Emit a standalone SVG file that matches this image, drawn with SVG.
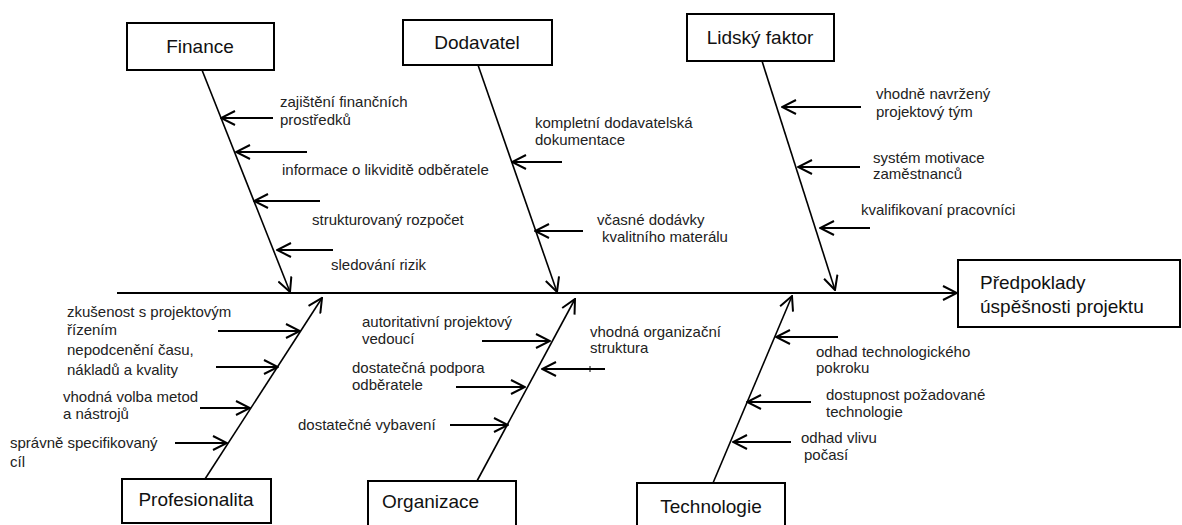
<svg xmlns="http://www.w3.org/2000/svg" width="1182" height="525" viewBox="0 0 1182 525">
<style>
.box{fill:#fff;stroke:#000;stroke-width:2}
.bt{font-family:"Liberation Sans",Arial,sans-serif;font-size:19px;fill:#111}
.lb{font-family:"Liberation Sans",Arial,sans-serif;font-size:15px;fill:#222}
.ln{stroke:#000;stroke-width:2;fill:none}
.bn{stroke:#000;stroke-width:1.6;fill:none}
</style>
<defs>
<marker id="ah" viewBox="0 0 16 16" refX="15" refY="8" markerWidth="16" markerHeight="16" markerUnits="userSpaceOnUse" orient="auto">
<path d="M1,1 L15,8 L1,15" fill="none" stroke="#000" stroke-width="2"/>
</marker>
</defs>
<rect width="1182" height="525" fill="#fff"/>
<g id="connectors">
<line class="ln" x1="117" y1="293" x2="957" y2="293" marker-end="url(#ah)"/>
<line class="bn" x1="202" y1="70" x2="290" y2="292" marker-end="url(#ah)"/>
<line class="bn" x1="478" y1="65" x2="557" y2="292" marker-end="url(#ah)"/>
<line class="bn" x1="762" y1="61" x2="835" y2="290" marker-end="url(#ah)"/>
<line class="bn" x1="205" y1="479" x2="322" y2="298" marker-end="url(#ah)"/>
<line class="bn" x1="477" y1="481" x2="575" y2="299" marker-end="url(#ah)"/>
<line class="bn" x1="713" y1="483" x2="792" y2="296" marker-end="url(#ah)"/>
<line class="ln" x1="273" y1="118" x2="221" y2="118" marker-end="url(#ah)"/>
<line class="ln" x1="307" y1="152" x2="236" y2="152" marker-end="url(#ah)"/>
<line class="ln" x1="320" y1="201" x2="254" y2="201" marker-end="url(#ah)"/>
<line class="ln" x1="333" y1="250" x2="277" y2="250" marker-end="url(#ah)"/>
<line class="ln" x1="562" y1="162" x2="512" y2="162" marker-end="url(#ah)"/>
<line class="ln" x1="583" y1="231" x2="535" y2="231" marker-end="url(#ah)"/>
<line class="ln" x1="861" y1="107" x2="782" y2="107" marker-end="url(#ah)"/>
<line class="ln" x1="860" y1="167" x2="798" y2="167" marker-end="url(#ah)"/>
<line class="ln" x1="870" y1="228" x2="820" y2="228" marker-end="url(#ah)"/>
<line class="ln" x1="218" y1="331" x2="300" y2="331" marker-end="url(#ah)"/>
<line class="ln" x1="216" y1="367" x2="278" y2="367" marker-end="url(#ah)"/>
<line class="ln" x1="200" y1="408" x2="250" y2="408" marker-end="url(#ah)"/>
<line class="ln" x1="175" y1="443" x2="227" y2="443" marker-end="url(#ah)"/>
<line class="ln" x1="482" y1="341" x2="550" y2="341" marker-end="url(#ah)"/>
<line class="ln" x1="456" y1="387" x2="525" y2="387" marker-end="url(#ah)"/>
<line class="ln" x1="450" y1="425" x2="508" y2="425" marker-end="url(#ah)"/>
<line class="ln" x1="605" y1="369" x2="542" y2="369" marker-end="url(#ah)"/>
<line stroke="#000" stroke-width="1" x1="590" y1="366" x2="590" y2="372"/>
<line class="ln" x1="838" y1="337" x2="776" y2="337" marker-end="url(#ah)"/>
<line class="ln" x1="811" y1="402" x2="747" y2="402" marker-end="url(#ah)"/>
<line class="ln" x1="791" y1="442" x2="733" y2="442" marker-end="url(#ah)"/>
</g>
<g id="finance"><rect class="box" x="127" y="23" width="147" height="47"/><text class="bt" x="200" y="53" text-anchor="middle">Finance</text></g>
<g id="dodavatel"><rect class="box" x="403" y="20" width="149" height="45"/><text class="bt" x="477" y="49" text-anchor="middle">Dodavatel</text></g>
<g id="lidsky-faktor"><rect class="box" x="687" y="14" width="147" height="47"/><text class="bt" x="760" y="44" text-anchor="middle">Lidský faktor</text></g>
<g id="predpoklady"><rect class="box" x="958" y="260" width="222" height="67"/><text class="bt" x="980" y="289">Předpoklady</text><text class="bt" x="980" y="313">úspěšnosti projektu</text></g>
<g id="profesionalita"><rect class="box" x="122" y="479" width="149" height="44"/><text class="bt" x="196" y="506" text-anchor="middle">Profesionalita</text></g>
<g id="organizace"><rect class="box" x="368" y="481" width="148" height="54"/><text class="bt" x="382" y="508">Organizace</text></g>
<g id="technologie"><rect class="box" x="637" y="483" width="148" height="52"/><text class="bt" x="711" y="513" text-anchor="middle">Technologie</text></g>
<g id="labels">
<text class="lb" x="280" y="107">zajištění finančních</text>
<text class="lb" x="280" y="125">prostředků</text>
<text class="lb" x="282" y="175">informace o likviditě odběratele</text>
<text class="lb" x="312" y="225">strukturovaný rozpočet</text>
<text class="lb" x="331" y="270">sledování rizik</text>
<text class="lb" x="535" y="128">kompletní dodavatelská</text>
<text class="lb" x="535" y="145">dokumentace</text>
<text class="lb" x="597" y="225">včasné dodávky</text>
<text class="lb" x="602" y="242">kvalitního materálu</text>
<text class="lb" x="876" y="99">vhodně navržený</text>
<text class="lb" x="876" y="117">projektový tým</text>
<text class="lb" x="873" y="163">systém motivace</text>
<text class="lb" x="873" y="179">zaměstnanců</text>
<text class="lb" x="861" y="215">kvalifikovaní pracovníci</text>
<text class="lb" x="67" y="317">zkušenost s projektovým</text>
<text class="lb" x="67" y="335">řízením</text>
<text class="lb" x="67" y="355">nepodcenění času,</text>
<text class="lb" x="67" y="375">nákladů a kvality</text>
<text class="lb" x="63" y="402">vhodná volba metod</text>
<text class="lb" x="63" y="419">a nástrojů</text>
<text class="lb" x="10" y="448">správně specifikovaný</text>
<text class="lb" x="10" y="467">cíl</text>
<text class="lb" x="362" y="327">autoritativní projektový</text>
<text class="lb" x="362" y="344">vedoucí</text>
<text class="lb" x="352" y="373">dostatečná podpora</text>
<text class="lb" x="352" y="390">odběratele</text>
<text class="lb" x="298" y="430">dostatečné vybavení</text>
<text class="lb" x="590" y="337">vhodná organizační</text>
<text class="lb" x="590" y="353">struktura</text>
<text class="lb" x="816" y="357">odhad technologického</text>
<text class="lb" x="816" y="373">pokroku</text>
<text class="lb" x="826" y="400">dostupnost požadované</text>
<text class="lb" x="826" y="417">technologie</text>
<text class="lb" x="801" y="443">odhad vlivu</text>
<text class="lb" x="804" y="460">počasí</text>
</g>
</svg>
